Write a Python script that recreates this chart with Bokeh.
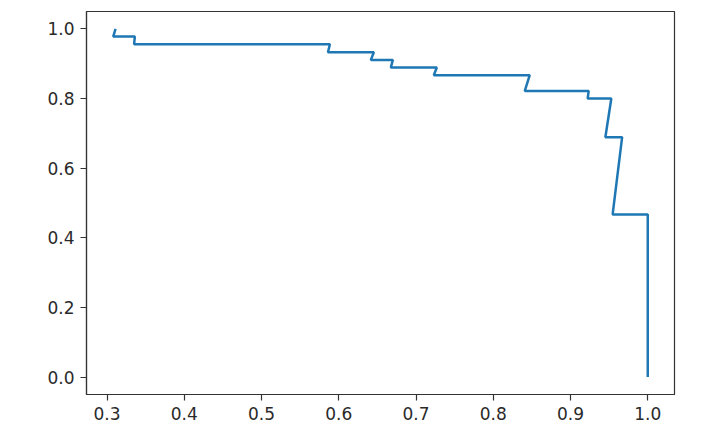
from bokeh.plotting import figure
from bokeh.models import Range1d, FixedTicker, PrintfTickFormatter
from bokeh.embed import file_html
from bokeh.resources import INLINE

# Precision (x) and recall (y) points of the curve, in plot order
precision = [0.311, 0.308, 0.336, 0.335, 0.5885, 0.586, 0.6454, 0.6415,
             0.670, 0.6674, 0.7269, 0.723, 0.8472, 0.8408, 0.9235, 0.9222,
             0.9528, 0.9451, 0.9668, 0.9545, 1.0, 1.0]
recall = [1.0, 0.978, 0.978, 0.956, 0.956, 0.933, 0.933, 0.911,
          0.911, 0.889, 0.889, 0.867, 0.867, 0.822, 0.822, 0.800,
          0.800, 0.689, 0.689, 0.467, 0.467, 0.0]

x_ticks = [0.3, 0.4, 0.5, 0.6, 0.7, 0.8, 0.9, 1.0]
y_ticks = [0.0, 0.2, 0.4, 0.6, 0.8, 1.0]

W, H = 708, 428
p = figure(width=W, height=H, output_backend="svg", toolbar_location=None,
           x_range=Range1d(0.2734, 1.0346), y_range=Range1d(-0.05, 1.05),
           min_border_left=86, min_border_right=W - 674, min_border_top=11,
           min_border_bottom=H - 394)

p.line(precision, recall, line_color="#1f77b4", line_width=2.5)

p.xgrid.visible = False
p.ygrid.visible = False
p.outline_line_color = "#333333"
p.outline_line_width = 1.2
p.background_fill_color = "white"
p.border_fill_color = "white"

for ax, ticks in ((p.xaxis[0], x_ticks), (p.yaxis[0], y_ticks)):
    ax.ticker = FixedTicker(ticks=ticks)
    ax.formatter = PrintfTickFormatter(format="%.1f")
    ax.minor_tick_line_color = None
    ax.major_tick_in = 0
    ax.major_tick_out = 6
    ax.major_tick_line_color = "#333333"
    ax.major_tick_line_width = 1.2
    ax.axis_line_color = "#333333"
    ax.axis_line_width = 1.2
    ax.major_label_text_font = "DejaVu Sans"
    ax.major_label_text_font_size = "17px"
    ax.major_label_text_color = "#2a2a2a"
    ax.major_label_standoff = 6

open("out.html", "w").write(file_html(p, INLINE))
